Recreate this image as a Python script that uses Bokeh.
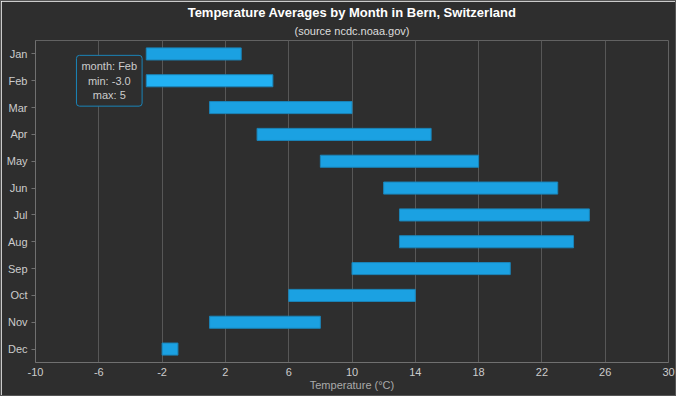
from bokeh.plotting import figure
from bokeh.models import FactorRange, Range1d, FixedTicker, Title, Label, ColumnDataSource
from bokeh.embed import file_html
from bokeh.resources import INLINE

months = ["Jan", "Feb", "Mar", "Apr", "May", "Jun", "Jul", "Aug", "Sep", "Oct", "Nov", "Dec"]
tmin = [-3, -3, 1, 4, 8, 12, 13, 13, 10, 6, 1, -2]
tmax = [3, 5, 10, 15, 18, 23, 25, 24, 20, 14, 8, -1]
x_ticks = [-10, -6, -2, 2, 6, 10, 14, 18, 22, 26, 30]

BG = "#2e2e2e"
BAR = "#1ba1e2"
BAR_HOVER = "#22b1f3"
BAR_LINE = "#1a84b8"
TXT = "#cccccc"
GRID = "#575757"
FONT = "Liberation Sans"

colors = [BAR_HOVER if m == "Feb" else BAR for m in months]
src = ColumnDataSource(dict(month=months, tmin=tmin, tmax=tmax, color=colors))

p = figure(
    y_range=FactorRange(factors=list(reversed(months))),
    x_range=Range1d(-10, 30),
    width=676, height=396,
    output_backend="svg", toolbar_location=None,
    title=None,
    min_border_left=34, min_border_right=9, min_border_top=39, min_border_bottom=35,
)
p.background_fill_color = BG
p.border_fill_color = BG
p.outline_line_color = None

p.hbar(y="month", left="tmin", right="tmax", height=0.45, source=src,
       fill_color="color", line_color=BAR_LINE, line_width=1)

p.add_layout(Title(text="(source ncdc.noaa.gov)", align="center", text_font_size="11px",
                   text_font_style="normal", text_color="#dddddd", text_font=FONT,
                   standoff=7), "above")
p.add_layout(Title(text="Temperature Averages by Month in Bern, Switzerland", align="center",
                   text_font_size="13px", text_font_style="bold", text_color="#ffffff",
                   text_font=FONT, standoff=0), "above")

p.ygrid.grid_line_color = None
p.xgrid.grid_line_color = GRID
p.xgrid.grid_line_width = 1
p.xaxis.ticker = FixedTicker(ticks=x_ticks)
p.xaxis.major_label_overrides = {t: str(t) for t in x_ticks}
p.xaxis.axis_label = "Temperature (°C)"
p.xaxis.axis_label_text_font = FONT
p.xaxis.axis_label_text_font_size = "11px"
p.xaxis.axis_label_text_font_style = "normal"
p.xaxis.axis_label_text_color = "#aaaaaa"
p.xaxis.axis_label_standoff = 0

for ax in (p.xaxis, p.yaxis):
    ax.axis_line_color = "#707070"
    ax.major_label_text_color = TXT
    ax.major_label_text_font = FONT
    ax.major_label_text_font_size = "11px"
    ax.minor_tick_line_color = None
p.xaxis.major_tick_line_color = None
p.xaxis.major_tick_out = 0
p.xaxis.major_tick_in = 0
p.xaxis.major_label_standoff = 5
p.yaxis.major_tick_line_color = "#707070"
p.yaxis.major_tick_out = 4
p.yaxis.major_tick_in = 0
p.yaxis.major_label_standoff = 4

# static hover tooltip for Feb (categorical factor centre -> synthetic coordinate)
i = months.index("Feb")
y_center = (len(months) - 1 - i) + 0.5
tip = Label(x=tmin[i], y=y_center, x_offset=-37, y_offset=0,
            text=f"month: {months[i]}\nmin: {float(tmin[i]):.1f}\nmax: {tmax[i]}",
            text_align="center", text_baseline="middle",
            text_font=FONT, text_font_size="11px", text_color=TXT,
            background_fill_color=BG, border_line_color=BAR_LINE, border_line_width=1,
            padding=5, border_radius=3)
p.add_layout(tip)

p.styles = {"border": "1px solid #555555"}

open("out.html", "w").write(file_html(p, INLINE))
